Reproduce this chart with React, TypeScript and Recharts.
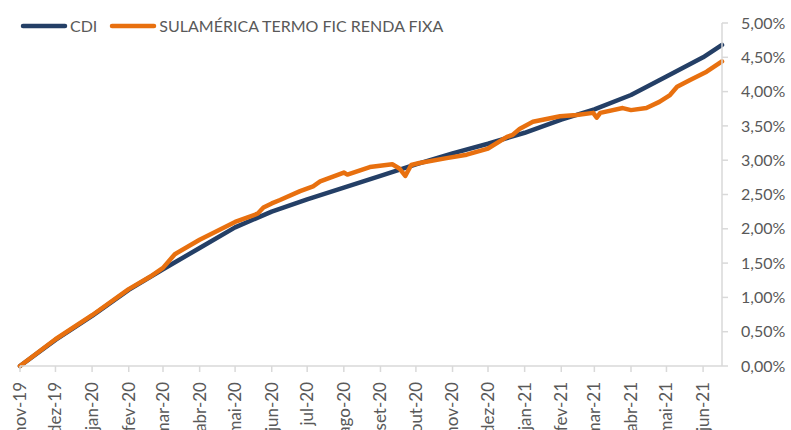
import React from "react";
import { LineChart, Line, XAxis, YAxis } from "recharts";

// month ticks on the time axis
const monthDates = [
  "2019-11-01", "2019-12-01", "2020-01-01", "2020-02-01", "2020-03-01",
  "2020-04-01", "2020-05-01", "2020-06-01", "2020-07-01", "2020-08-01",
  "2020-09-01", "2020-10-01", "2020-11-01", "2020-12-01", "2021-01-01",
  "2021-02-01", "2021-03-01", "2021-04-01", "2021-05-01", "2021-06-01",
];
const monthLabels = [
  "nov-19", "dez-19", "jan-20", "fev-20", "mar-20", "abr-20", "mai-20",
  "jun-20", "jul-20", "ago-20", "set-20", "out-20", "nov-20", "dez-20",
  "jan-21", "fev-21", "mar-21", "abr-21", "mai-21", "jun-21",
];
const lastDate = "2021-06-17";

const yTicks = [0, 0.5, 1, 1.5, 2, 2.5, 3, 3.5, 4, 4.5, 5];

// CDI accumulated (%)
const cdiDates = [
  "2019-11-01", "2019-12-01", "2020-01-01", "2020-02-01", "2020-03-01",
  "2020-04-01", "2020-05-01", "2020-06-01", "2020-07-01", "2020-08-01",
  "2020-09-01", "2020-10-01", "2020-11-01", "2020-12-01", "2021-01-01",
  "2021-02-01", "2021-03-01", "2021-04-01", "2021-05-01", "2021-06-01",
  "2021-06-17",
];
const cdiValues = [
  0, 0.38, 0.73, 1.11, 1.41, 1.72, 2.02, 2.25, 2.43, 2.6, 2.77, 2.94,
  3.1, 3.24, 3.4, 3.59, 3.74, 3.95, 4.22, 4.5, 4.68,
];

// SulAmérica Termo FIC Renda Fixa accumulated (%)
const fundDates = [
  "2019-11-01", "2019-12-01", "2020-01-01", "2020-02-01", "2020-02-19",
  "2020-03-01", "2020-03-11", "2020-04-01", "2020-05-01", "2020-05-20",
  "2020-05-25", "2020-06-01", "2020-06-08", "2020-06-25", "2020-07-06",
  "2020-07-12", "2020-08-01", "2020-08-04", "2020-08-23", "2020-09-11",
  "2020-09-17", "2020-09-22", "2020-09-27", "2020-10-04", "2020-10-27",
  "2020-11-13", "2020-12-01", "2020-12-17", "2020-12-22", "2020-12-28",
  "2021-01-08", "2021-01-31", "2021-02-14", "2021-02-28", "2021-03-03",
  "2021-03-06", "2021-03-25", "2021-04-01", "2021-04-14", "2021-04-25",
  "2021-05-04", "2021-05-10", "2021-05-21", "2021-06-04", "2021-06-17",
];
const fundValues = [
  0, 0.39, 0.74, 1.12, 1.3, 1.43, 1.63, 1.84, 2.1, 2.22, 2.31, 2.37,
  2.42, 2.55, 2.62, 2.69, 2.82, 2.79, 2.9, 2.94, 2.88, 2.77, 2.93, 2.96,
  3.03, 3.08, 3.17, 3.34, 3.37, 3.46, 3.56, 3.64, 3.66, 3.69, 3.62, 3.69,
  3.76, 3.73, 3.76, 3.85, 3.95, 4.07, 4.17, 4.29, 4.44,
];

const NAVY = "#243F66";
const ORANGE = "#E8700F";
const GRID = "#D9D9D9";
const TEXT = "#595959";
const FONT = "Lato, 'Open Sans', sans-serif";

const start = Date.UTC(2019, 10, 1);
const dayNum = (s: string) => {
  const [y, m, d] = s.split("-").map(Number);
  return Math.round((Date.UTC(y, m - 1, d) - start) / 86400000);
};

const cdiData = cdiDates.map((d, i) => ({ t: dayNum(d), v: cdiValues[i] }));
const fundData = fundDates.map((d, i) => ({ t: dayNum(d), v: fundValues[i] }));
const tickDays = monthDates.map(dayNum);
const labelByDay: Record<number, string> = {};
tickDays.forEach((t, i) => (labelByDay[t] = monthLabels[i]));

const pct = (v: number) => v.toFixed(2).replace(".", ",") + "%";

function MonthTick(props: any) {
  const { x, y, payload } = props;
  const ty = y + 8;
  return (
    <text
      x={x}
      y={ty}
      transform={`rotate(-90, ${x}, ${ty})`}
      textAnchor="end"
      dy="0.35em"
      fill={TEXT}
      fontSize={17}
      fontFamily={FONT}
    >
      {labelByDay[payload.value]}
    </text>
  );
}

function LegendBox() {
  const items = [
    { label: "CDI", color: NAVY },
    { label: "SULAMÉRICA TERMO FIC RENDA FIXA", color: ORANGE },
  ];
  return (
    <div
      style={{
        position: "absolute",
        left: 20,
        top: 16,
        display: "flex",
        alignItems: "center",
        fontFamily: FONT,
        fontSize: 16,
        color: TEXT,
      }}
    >
      {items.map((it, i) => (
        <div
          key={it.label}
          style={{ display: "flex", alignItems: "center", marginRight: i === 0 ? 12 : 0 }}
        >
          <svg width={48} height={8} style={{ marginRight: 2 }}>
            <line x1={3} y1={4} x2={45} y2={4} stroke={it.color} strokeWidth={4.5} strokeLinecap="round" />
          </svg>
          <span>{it.label}</span>
        </div>
      ))}
    </div>
  );
}

export default function App() {
  return (
    <div style={{ position: "absolute", left: 0, top: 0, width: 791, height: 430, background: "#fff" }}>
      <LineChart
        width={791}
        height={430}
        margin={{ top: 23, right: 0, bottom: 0, left: 20 }}
      >
        <XAxis
          type="number"
          dataKey="t"
          domain={[0, dayNum(lastDate)]}
          ticks={tickDays}
          interval={0}
          height={64}
          stroke={GRID}
          strokeWidth={1.5}
          tickSize={6}
          tickLine={{ stroke: GRID }}
          tick={<MonthTick />}
          allowDuplicatedCategory={false}
        />
        <YAxis
          orientation="right"
          domain={[0, 5]}
          ticks={yTicks}
          interval={0}
          width={69}
          stroke={GRID}
          strokeWidth={1.5}
          tickSize={6}
          tickMargin={13}
          tickLine={{ stroke: GRID }}
          tickFormatter={pct}
          tick={{ fill: TEXT, fontSize: 16, fontFamily: FONT }}
        />
        <Line
          data={cdiData}
          dataKey="v"
          type="linear"
          stroke={NAVY}
          strokeWidth={4.5}
          strokeLinecap="round"
          strokeLinejoin="round"
          dot={false}
          activeDot={false}
          isAnimationActive={false}
        />
        <Line
          data={fundData}
          dataKey="v"
          type="linear"
          stroke={ORANGE}
          strokeWidth={4.5}
          strokeLinecap="round"
          strokeLinejoin="round"
          dot={false}
          activeDot={false}
          isAnimationActive={false}
        />
      </LineChart>
      <LegendBox />
    </div>
  );
}
